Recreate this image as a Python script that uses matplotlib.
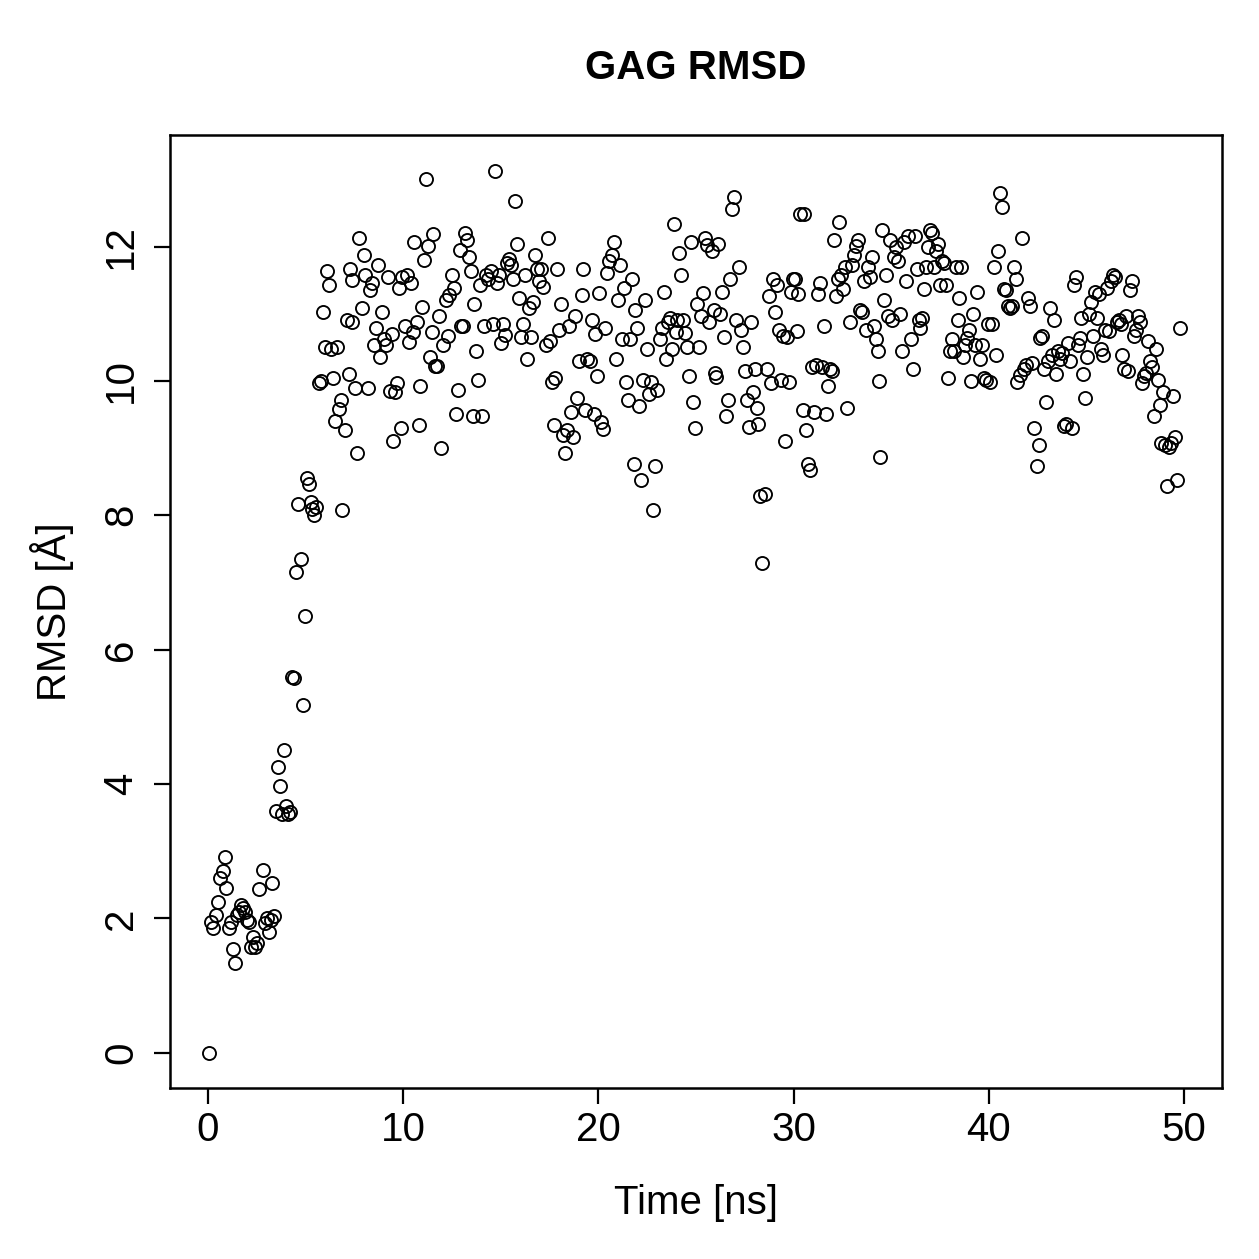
import matplotlib
matplotlib.use("Agg")
import matplotlib.pyplot as plt

time_ns = [0.05,0.15,0.25,0.4,0.5,0.6,0.75,0.85,0.9,1.05,1.15,1.3,1.4,1.5,1.6,1.7,1.8,1.9,2.0,2.1,
2.2,2.3,2.4,2.5,2.6,2.8,2.9,3.0,3.1,3.2,3.3,3.4,3.5,3.6,3.7,3.8,3.9,4.0,4.1,4.2,
4.3,4.4,4.5,4.6,4.75,4.85,4.95,5.05,5.15,5.25,5.35,5.45,5.55,5.7,5.8,5.9,6.0,6.1,6.2,6.3,
6.4,6.5,6.6,6.7,6.8,6.85,7.0,7.1,7.2,7.25,7.35,7.4,7.55,7.65,7.75,7.9,8.0,8.05,8.2,8.3,
8.4,8.5,8.6,8.7,8.8,8.9,9.0,9.1,9.2,9.3,9.4,9.5,9.6,9.7,9.8,9.9,9.95,10.1,10.2,10.3,
10.4,10.5,10.55,10.7,10.8,10.85,10.95,11.05,11.15,11.25,11.35,11.45,11.55,11.65,11.75,11.85,11.95,12.05,12.2,12.3,
12.35,12.5,12.6,12.7,12.8,12.9,12.95,13.05,13.15,13.25,13.35,13.45,13.55,13.65,13.75,13.85,13.95,14.05,14.15,14.25,
14.35,14.5,14.6,14.7,14.8,14.9,15.0,15.1,15.2,15.3,15.4,15.5,15.6,15.75,15.85,15.95,16.05,16.15,16.25,16.35,
16.45,16.55,16.65,16.75,16.85,16.95,17.05,17.15,17.3,17.4,17.5,17.6,17.7,17.8,17.9,18.0,18.1,18.2,18.3,18.4,
18.5,18.6,18.7,18.8,18.9,19.0,19.15,19.2,19.3,19.4,19.55,19.65,19.75,19.85,19.95,20.05,20.15,20.25,20.35,20.45,
20.55,20.7,20.8,20.9,21.0,21.1,21.2,21.3,21.4,21.5,21.6,21.7,21.8,21.9,22.0,22.1,22.2,22.3,22.4,22.5,
22.6,22.7,22.8,22.9,23.0,23.15,23.25,23.35,23.45,23.55,23.65,23.75,23.85,23.95,24.05,24.15,24.25,24.35,24.45,24.55,
24.65,24.75,24.85,24.95,25.05,25.15,25.25,25.35,25.45,25.55,25.65,25.8,25.9,25.95,26.05,26.15,26.25,26.35,26.45,26.55,
26.65,26.75,26.85,26.95,27.05,27.2,27.3,27.4,27.5,27.6,27.7,27.8,27.9,28.0,28.1,28.2,28.3,28.4,28.55,28.65,
28.75,28.85,28.95,29.05,29.15,29.25,29.35,29.45,29.55,29.65,29.75,29.85,29.95,30.05,30.15,30.25,30.35,30.5,30.55,30.65,
30.75,30.85,30.95,31.05,31.15,31.25,31.35,31.45,31.55,31.65,31.75,31.85,31.95,32.05,32.15,32.25,32.35,32.45,32.55,32.65,
32.75,32.9,33.0,33.1,33.2,33.3,33.4,33.5,33.6,33.7,33.8,33.9,34.0,34.1,34.2,34.3,34.4,34.45,34.55,34.65,
34.75,34.85,34.95,35.05,35.15,35.25,35.35,35.45,35.55,35.65,35.75,35.85,36.0,36.1,36.2,36.3,36.4,36.5,36.6,36.7,
36.8,36.9,37.0,37.1,37.2,37.3,37.4,37.5,37.6,37.7,37.8,37.9,38.0,38.1,38.2,38.3,38.4,38.5,38.6,38.7,
38.8,38.9,39.0,39.1,39.2,39.3,39.4,39.55,39.65,39.75,39.85,39.95,40.05,40.15,40.25,40.35,40.45,40.6,40.7,40.8,
40.9,41.0,41.1,41.2,41.3,41.4,41.45,41.6,41.7,41.8,41.9,42.0,42.1,42.2,42.3,42.45,42.55,42.65,42.75,42.85,
42.95,43.05,43.15,43.25,43.35,43.45,43.55,43.65,43.75,43.85,43.95,44.05,44.15,44.25,44.35,44.45,44.55,44.65,44.75,44.85,
44.95,45.05,45.15,45.25,45.35,45.45,45.55,45.65,45.75,45.85,45.95,46.05,46.15,46.25,46.35,46.45,46.55,46.65,46.75,46.85,
46.95,47.05,47.15,47.25,47.35,47.45,47.55,47.65,47.75,47.85,47.95,48.05,48.15,48.25,48.35,48.45,48.55,48.65,48.75,48.85,
48.95,49.05,49.15,49.25,49.35,49.45,49.55,49.65,49.8]

rmsd_A = [0.0,1.95,1.85,2.05,2.25,2.6,2.7,2.92,2.45,1.85,1.95,1.55,1.33,2.05,2.1,2.2,2.15,2.1,1.97,1.95,
1.57,1.72,1.57,1.63,2.43,2.72,1.93,2.0,1.8,1.97,2.53,2.03,3.6,4.25,3.97,3.55,4.5,3.67,3.55,3.58,
5.6,5.58,7.15,8.17,7.35,5.18,6.5,8.55,8.47,8.2,8.1,8.0,8.13,9.97,10.0,11.02,10.5,11.63,11.42,10.47,
10.05,9.4,10.5,9.58,9.72,8.08,9.27,10.9,10.1,11.67,10.88,11.5,9.9,8.92,12.12,11.09,11.87,11.58,9.9,11.36,
11.46,10.54,10.79,11.73,10.35,11.02,10.62,10.53,11.55,9.85,10.7,9.1,9.84,9.97,11.39,9.3,11.54,10.82,11.57,10.58,
11.45,10.73,12.06,10.88,9.35,9.93,11.1,11.8,13.01,12.01,10.35,10.73,12.18,10.22,10.22,10.97,9.0,10.54,11.2,10.67,
11.28,11.57,11.39,9.5,9.87,11.95,10.81,10.81,12.2,12.09,11.84,11.64,9.47,11.15,10.44,10.02,11.42,9.47,10.81,11.58,
11.52,11.63,10.84,13.13,11.46,11.57,10.56,10.84,10.69,11.76,11.82,11.73,11.52,12.68,12.04,11.24,10.65,10.84,11.58,10.33,
11.08,10.66,11.17,11.87,11.66,11.48,11.66,11.4,10.53,12.13,10.59,9.99,9.35,10.05,11.67,10.76,11.14,9.19,8.93,9.27,
10.81,9.53,9.17,10.97,9.75,10.3,11.28,11.67,9.57,10.33,10.29,10.91,9.5,10.7,10.08,11.31,9.39,9.29,10.79,11.61,
11.78,11.88,12.07,10.32,11.21,11.73,10.62,11.39,9.99,9.72,10.63,11.51,8.77,11.06,10.78,9.63,8.53,10.02,11.21,10.47,
9.8,9.99,8.08,8.74,9.86,10.62,10.78,11.33,10.32,10.88,10.93,10.47,12.34,10.73,10.91,11.91,11.58,10.91,10.72,10.51,
10.08,12.06,9.68,9.3,11.14,10.5,10.96,11.31,12.13,12.03,10.88,11.93,11.06,10.12,10.06,12.04,11.0,11.33,10.66,9.48,
9.72,11.51,12.56,12.73,10.91,11.7,10.76,10.5,10.15,9.72,9.32,10.88,9.84,10.17,9.6,9.36,8.29,7.29,8.32,10.17,
11.26,9.97,11.51,11.03,11.43,10.76,10.02,10.67,9.11,10.66,9.99,11.33,11.51,11.51,10.75,11.3,12.48,9.57,12.49,9.27,
8.77,8.68,10.2,9.54,10.23,11.3,11.46,10.2,10.82,9.5,9.93,10.17,10.15,12.1,11.26,11.51,12.37,11.57,11.37,11.69,
9.6,10.88,11.73,11.87,12.01,12.1,11.06,11.03,11.48,10.76,11.69,11.54,11.84,10.82,10.63,10.44,10.0,8.87,12.24,11.2,
11.57,10.97,12.1,10.9,11.84,11.99,11.78,10.99,10.45,12.07,11.48,12.16,10.62,10.17,12.15,11.66,10.9,10.79,10.94,11.37,
11.69,11.99,12.25,12.2,11.69,11.93,12.04,11.42,11.78,11.75,11.42,10.05,10.44,10.63,10.44,11.69,10.91,11.24,11.69,10.36,
10.53,10.64,10.76,10.0,11.0,10.53,11.33,10.32,10.53,10.05,10.02,10.84,9.99,10.84,11.7,10.38,11.93,12.8,12.59,11.37,
11.36,11.12,11.08,11.12,11.69,11.51,9.99,10.09,12.13,10.17,10.23,11.24,11.12,10.26,9.3,8.74,9.04,10.64,10.67,10.17,
9.69,10.29,11.09,10.38,10.9,10.11,10.44,10.32,10.41,9.33,9.36,10.56,10.3,9.3,11.43,11.54,10.54,10.64,10.94,10.11,
9.74,10.36,10.99,11.18,10.67,11.33,10.94,11.3,10.47,10.38,10.76,11.39,10.75,11.48,11.58,11.55,10.88,10.91,10.85,10.38,
10.17,10.97,10.14,11.36,11.48,10.67,10.76,10.97,10.87,9.97,10.08,10.12,10.59,10.29,10.2,9.48,10.47,10.02,9.64,9.08,
9.84,9.05,8.44,9.01,9.08,9.78,9.16,8.52,10.79]

title = "GAG RMSD"
xlabel = "Time [ns]"
ylabel = "RMSD [Å]"
xticks = [0, 10, 20, 30, 40, 50]
yticks = [0, 2, 4, 6, 8, 10, 12]

plt.rcParams['font.family'] = ['Liberation Sans', 'DejaVu Sans']

fig = plt.figure(figsize=(12.59, 12.59), dpi=100)
ax = fig.add_axes([170/1259, 1 - 1088/1259, (1222-170)/1259, (1088-135)/1259])

ax.plot(time_ns, rmsd_A, linestyle='none', marker='o', markersize=9.4,
        markerfacecolor='none', markeredgecolor='black', markeredgewidth=1.35)

ax.set_xlim(-1.95, 51.95)
ax.set_ylim(-0.525, 13.66)
ax.set_xticks(xticks)
ax.set_yticks(yticks)
ax.set_xticklabels([str(v) for v in xticks])
ax.set_yticklabels([str(v) for v in yticks], rotation=90, va='center')
ax.tick_params(axis='both', direction='out', length=11.5, width=1.6, labelsize=29)
ax.tick_params(axis='x', pad=5)
ax.tick_params(axis='y', pad=10)
for s in ax.spines.values():
    s.set_linewidth(1.8)

fig.text(0.5*(170+1222)/1259, 1 - 68/1259, title, ha='center', va='center',
         fontsize=29, fontweight='bold')
fig.text(0.5*(170+1222)/1259, 1 - 1203/1259, xlabel, ha='center', va='center', fontsize=29)
fig.text(52/1259, 1 - 612/1259, ylabel, ha='center', va='center', fontsize=29, rotation=90)

fig.savefig("out.png", dpi=100)
